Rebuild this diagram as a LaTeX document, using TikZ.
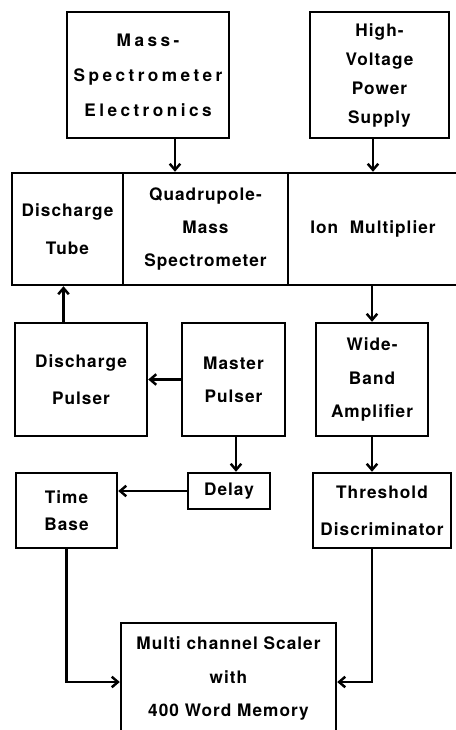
\documentclass[tikz,border=0pt]{standalone}
\usepackage{fontspec}
\usepackage{tikz}
\usetikzlibrary{arrows.meta,calc}
\newfontfamily\lettering{TeX Gyre Heros}[LetterSpace=6]
\newfontfamily\wlettering{TeX Gyre Heros}[LetterSpace=20]
\tikzset{
  box/.style={draw,line width=1.4pt,align=center,inner sep=0pt,
    font=\lettering\bfseries\fontsize{9.8}{19}\selectfont},
  flow/.style={-{Straight Barb[length=3.5pt,width=6pt]},line width=1.4pt},
}

\begin{document}
\begin{tikzpicture}[x=0.02cm,y=-0.02cm]
  \useasboundingbox (0,0) rectangle (456,730);
  \clip (0,0) rectangle (456,730);
  % supplies
  \node[box,minimum width=3.24cm,minimum height=2.52cm,
    font=\wlettering\bfseries\fontsize{9.8}{20}\selectfont] (mse) at (148,75) {Mass-\\Spectrometer\\Electronics};
  \node[box,minimum width=2.78cm,minimum height=2.52cm,
    font=\lettering\bfseries\fontsize{9.8}{16.5}\selectfont] (hv) at (379.5,75) {High-\\Voltage\\Power\\Supply};
  % vacuum system
  \node[box,minimum width=2.22cm,minimum height=2.24cm,
    font=\lettering\bfseries\fontsize{9.8}{22}\selectfont] (tube) at (67.5,229) {Discharge\\Tube};
  \node[box,minimum width=3.30cm,minimum height=2.24cm] (quad) at (205.5,229) {Quadrupole-\\Mass\\Spectrometer};
  \node[box,minimum width=3.40cm,minimum height=2.24cm] (ionm) at (373,229) {Ion~ Multiplier};
  % pulsing and amplifying
  \node[box,minimum width=2.64cm,minimum height=2.26cm,
    font=\lettering\bfseries\fontsize{9.8}{21}\selectfont] (dpul) at (81,379.5) {Discharge\\Pulser};
  \node[box,minimum width=2.06cm,minimum height=2.26cm] (mpul) at (233.5,379.5) {Master\\Pulser};
  \node[box,minimum width=2.24cm,minimum height=2.26cm] (wide) at (372,379.5) {Wide-\\Band\\Amplifier};
  \node[box,minimum width=1.64cm,minimum height=0.72cm] (delay) at (229,491) {Delay};
  \node[box,minimum width=2.02cm,minimum height=1.50cm,
    font=\lettering\bfseries\fontsize{9.8}{15.5}\selectfont] (tbase) at (66.5,510.5) {Time\\Base};
  \node[box,minimum width=2.76cm,minimum height=1.50cm,
    font=\lettering\bfseries\fontsize{9.8}{21}\selectfont] (thr) at (382,510.5) {Threshold\\Discriminator};
  % counting
  \node[box,minimum width=4.30cm,minimum height=2.22cm] (scaler) at (228.5,678.5) {Multi channel Scaler\\with\\400 Word Memory};

  \draw[flow] ($(mse.south)+(27,0)$) -- ($(mse.south |- quad.north)+(27,0)$);
  \draw[flow] (hv.south -| ionm.north) -- (ionm.north);
  \draw[flow] ($(dpul.north -| tube.south)+(-4,0)$) -- ($(tube.south)+(-4,0)$);
  \draw[flow] (ionm.south -| wide.north) -- (wide.north);
  \draw[flow] (mpul.west) -- (dpul.east);
  \draw[flow] ($(mpul.south)+(2.5,0)$) -- ($(mpul.south |- delay.north)+(2.5,0)$);
  \draw[flow] (delay.west) -- (delay.west -| tbase.east);
  \draw[flow] (wide.south) -- (wide.south |- thr.north);
  \draw[flow] (tbase.south) |- ($(scaler.west)+(0,3.5)$);
  \draw[flow] (thr.south -| wide.south) |- ($(scaler.east)+(0,3.5)$);
\end{tikzpicture}
\end{document}
